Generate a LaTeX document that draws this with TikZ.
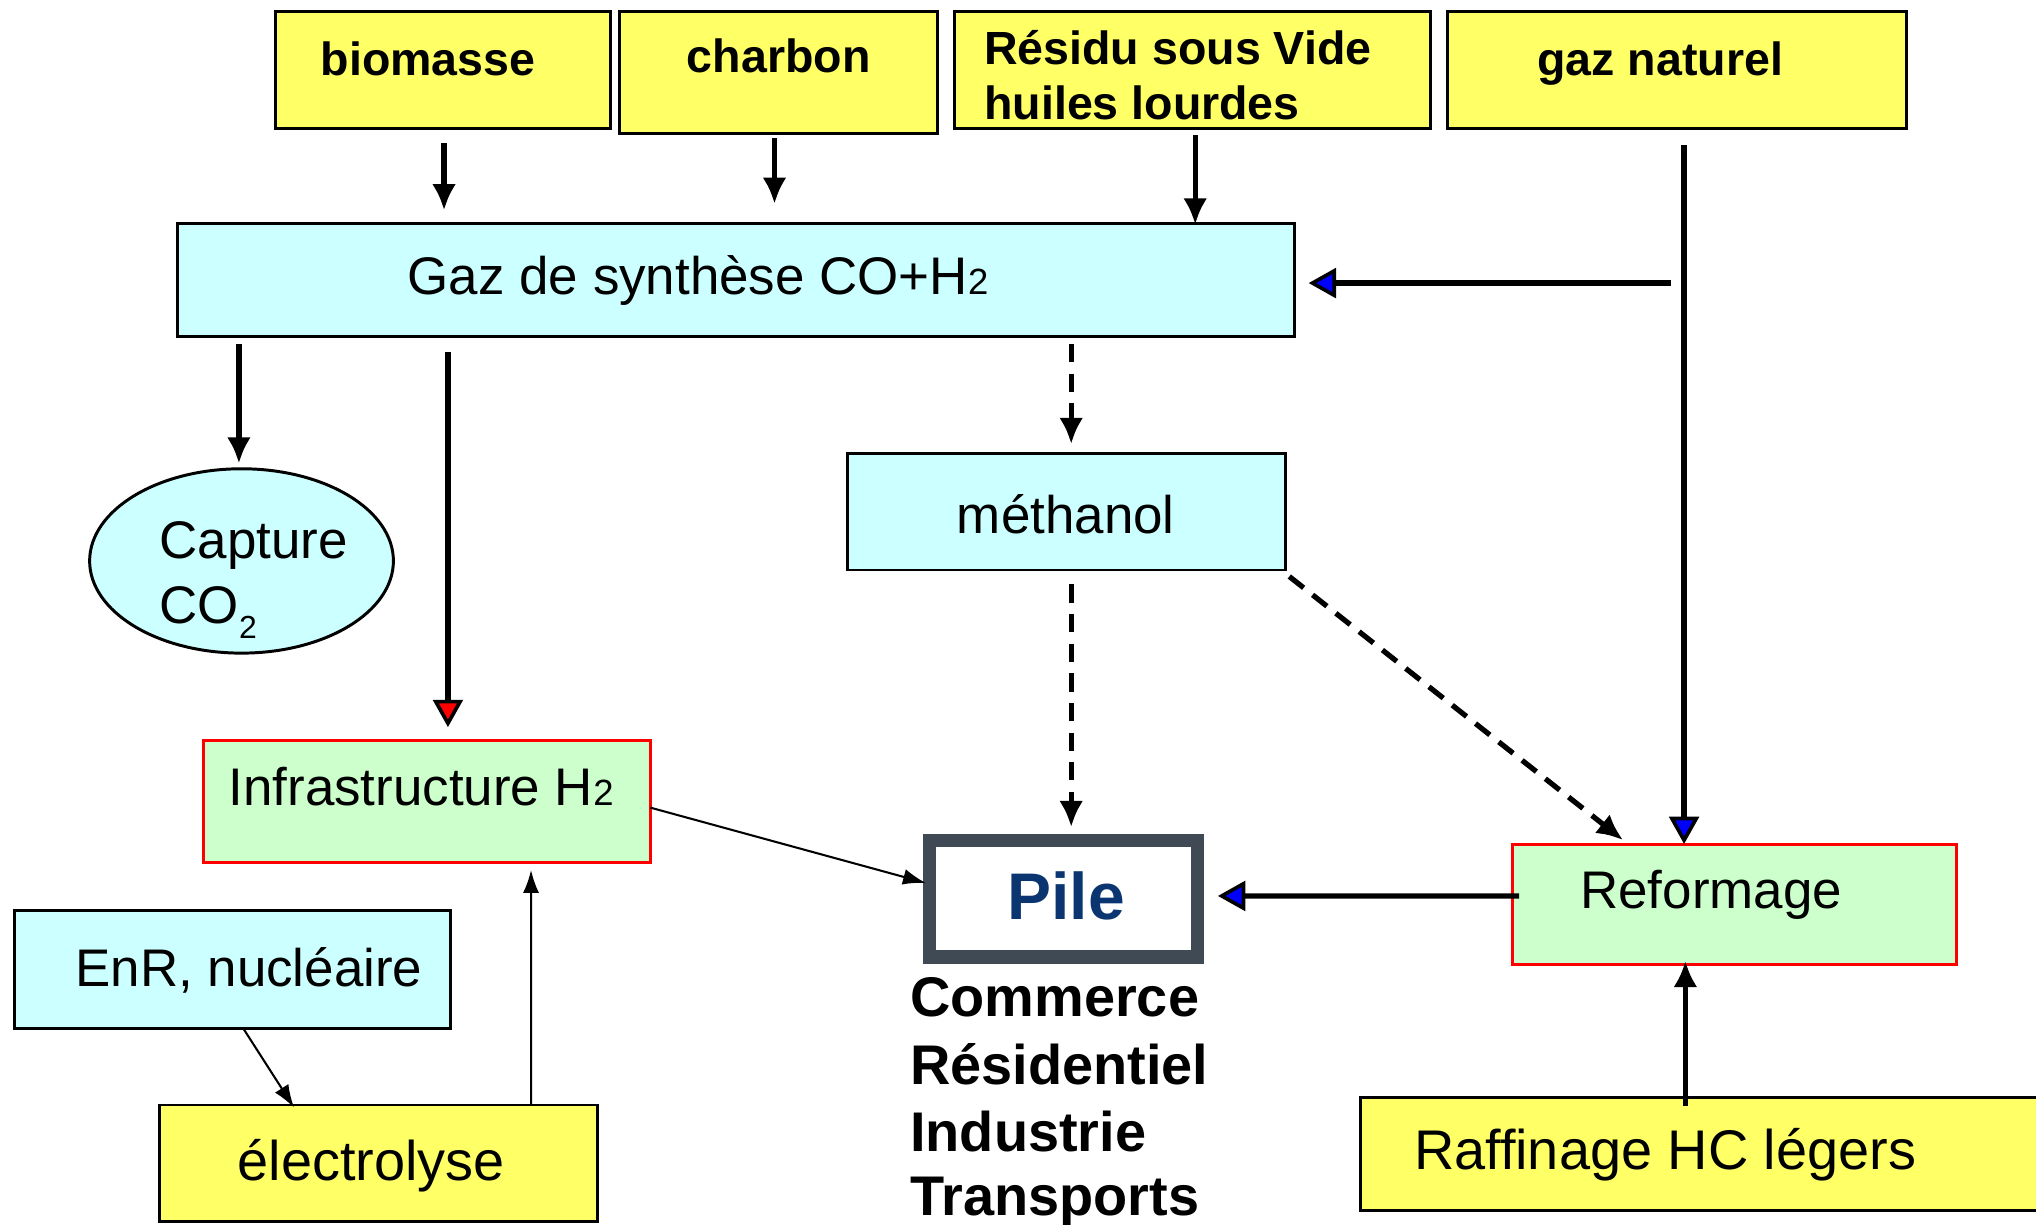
\documentclass[tikz,border=0pt]{standalone}
\usepackage{fontspec}
\setmainfont{Liberation Sans}
\usetikzlibrary{arrows.meta,calc,shapes.geometric}
\definecolor{yel}{HTML}{FFFF66}
\definecolor{cya}{HTML}{CCFFFF}
\definecolor{grn}{HTML}{CCFFCC}
\definecolor{pileborder}{HTML}{404A54}
\definecolor{piletext}{HTML}{0A3570}
\newcommand{\hsub}{{\fontsize{16}{16}\selectfont 2}}
\begin{document}
\begin{tikzpicture}[x=0.02cm,y=-0.02cm,
 box/.style={draw, line width=1.3pt, inner sep=0pt, outer sep=0pt, anchor=north west},
 ybox/.style={box, fill=yel},
 cbox/.style={box, fill=cya},
 gbox/.style={box, fill=grn, draw=red},
 lab/.style={anchor=base west, inner sep=0pt, outer sep=0pt},
 bfs/.style={font=\fontsize{20.4}{24}\selectfont\bfseries},
 rfs/.style={font=\fontsize{23.2}{27}\selectfont},
 rfl/.style={font=\fontsize{24.5}{28}\selectfont},
 ufs/.style={font=\fontsize{24.5}{28}\selectfont\bfseries},
 arr/.style={line width=2.3pt, -{Latex[length=11.5pt,width=10.5pt]}},
 darr/.style={arr, dash pattern=on 8pt off 5pt},
 barr/.style={line width=2.3pt, -{Triangle[length=12pt,width=13pt,fill=blue,line width=1.6pt]}},
 rarr/.style={line width=2.3pt, -{Triangle[length=12pt,width=13pt,fill=red,line width=1.6pt]}},
 tarr/.style={line width=0.9pt, -{Latex[length=10pt,width=7pt]}},
]
\useasboundingbox (0,0) rectangle (1568,943);
\clip (0,0) rectangle (1568,943);
\fill[white] (0,0) rectangle (1568,943);

% boxes
\node[ybox, minimum width=5.16cm, minimum height=1.8cm] (bio) at (212,9) {};
\node[ybox, minimum width=4.9cm, minimum height=1.88cm] (char) at (477,9) {};
\node[ybox, minimum width=7.34cm, minimum height=1.8cm] (res) at (735,9) {};
\node[ybox, minimum width=7.06cm, minimum height=1.8cm] (gn) at (1115,9) {};
\node[cbox, minimum width=17.2cm, minimum height=1.74cm] (gaz) at (137,172) {};
\node[cbox, minimum width=6.74cm, minimum height=1.8cm] (meth) at (653,349) {};
\node[draw, fill=cya, line width=1.3pt, ellipse, inner sep=0pt, outer sep=0pt,
      minimum width=4.68cm, minimum height=2.84cm] (cap) at (186,432) {};
\node[gbox, minimum width=6.88cm, minimum height=1.88cm] (inf) at (157,570) {};
\node[box, draw=pileborder, fill=white, line width=5.8pt, minimum width=4.12cm, minimum height=1.8cm] (pile) at (716,647) {};
\node[gbox, minimum width=6.84cm, minimum height=1.86cm] (ref) at (1165,650) {};
\node[ybox, minimum width=10.9cm, minimum height=1.74cm] (raff) at (1048,845) {};
\node[cbox, minimum width=6.72cm, minimum height=1.82cm] (enr) at (11,701) {};
\node[ybox, minimum width=6.74cm, minimum height=1.8cm] (elec) at (123,851) {};

% texts
\node[lab, bfs] (tbio) at (247,58) {biomasse};
\node[lab, bfs] (tchar) at (529,56) {charbon};
\node[lab, bfs] (tres1) at (758,50) {Résidu sous Vide};
\node[lab, bfs] (tres2) at (758,92) {huiles lourdes};
\node[lab, bfs] (tgn) at (1184,58) {gaz naturel};
\node[lab, rfs] (tgaz) at (314,227) {Gaz de synthèse CO+H\hsub};
\node[lab, rfs] (tmeth) at (737,411) {méthanol};
\node[lab, rfs] (tcap1) at (123,430) {Capture};
\node[lab, rfs] (tcap2) at (123,480) {CO\raisebox{-0.28em}{\fontsize{14}{14}\selectfont 2}};
\node[lab, rfs] (tinf) at (176,620) {Infrastructure H\hsub};
\node[lab, rfs] (tenr) at (58,760) {EnR, nucléaire};
\node[lab, rfl] (telec) at (183,909) {électrolyse};
\node[lab, rfs] (tref) at (1217,700) {Reformage};
\node[lab, rfl] (traff) at (1089,901) {Raffinage HC légers};
\node[lab, font=\fontsize{28.9}{32}\selectfont\bfseries, text=piletext] (tpile) at (776,708) {Pile};
\node[lab, ufs] (u1) at (701,783) {Commerce};
\node[lab, ufs] (u2) at (701,835) {Résidentiel};
\node[lab, ufs] (u3) at (701,887) {Industrie};
\node[lab, ufs] (u4) at (701,936) {Transports};

% connectors
\coordinate (gnline) at ($(gn.south)+(5.5,13)$);
\draw[arr] ($(bio.south)+(1,11)$) -- ($(bio.south |- gaz.north)+(1,-10)$);
\draw[arr] ($(char.south)+(-3,3)$) -- ($(char.south |- gaz.north)+(-3,-15)$);
\draw[arr] ($(res.south)+(2,5)$) -- ($(res.south |- gaz.north)+(2,1)$);
\draw[barr] (gnline) -- (gnline |- ref.north);
\draw[barr] ($(gnline |- gaz.east)+(-10,2.5)$) -- ($(gaz.east)+(11,2.5)$);
\draw[arr] ($(gaz.south -| cap.north)+(-2,6)$) -- ($(cap.north)+(-2,-4)$);
\draw[rarr] ($(gaz.south -| inf.north)+(16,12)$) -- ($(inf.north)+(16,-10)$);
\draw[darr] ($(gaz.south -| meth.north)+(3.5,6)$) -- ($(meth.north)+(3.5,-7)$);
\draw[darr] ($(meth.south)+(3.5,11)$) -- ($(meth.south |- pile.north)+(3.5,-10)$);
\draw[darr] ($(meth.south east)+(3,5)$) -- ($(ref.north west)+(85,-3)$);
\draw[tarr] ($(inf.east)+(0,5)$) -- ($(pile.west)+(-3,-12)$);
\draw[barr] ($(ref.west)+(5,-6.5)$) -- ($(pile.east)+(16,-2)$);
\draw[arr] ($(raff.north -| ref.south)+(-38,7)$) -- ($(ref.south)+(-38,-3)$);
\draw[tarr] ($(enr.south)+(9,1)$) -- ($(elec.north)+(-65,2)$);
\draw[tarr] ($(elec.north)+(117.5,0)$) -- ($(inf.south)+(80,6)$);
\end{tikzpicture}
\end{document}
